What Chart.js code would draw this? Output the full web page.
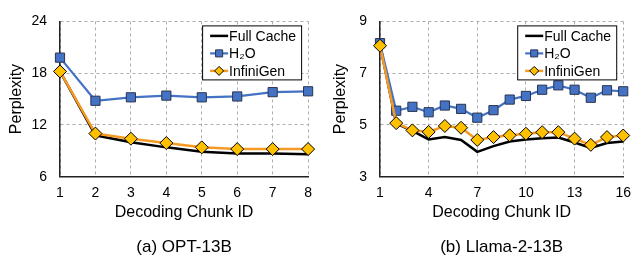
<!DOCTYPE html>
<html>
<head>
<meta charset="utf-8">
<script src="https://cdn.jsdelivr.net/npm/chart.js@4.4.1/dist/chart.umd.min.js"></script>
<style>
    html, body { margin: 0; padding: 0; background: #fff; }
    #wrap { position: relative; width: 639px; height: 259px; }
    canvas { position: absolute; top: 0; }
</style>
</head>
<body>
<div id="wrap">
    <canvas id="optChart" width="320" height="259" style="left:0"></canvas>
    <canvas id="llamaChart" width="319" height="259" style="left:320px"></canvas>
</div>
<script>
const seriesNames = ['Full Cache', 'H₂O', 'InfiniGen'];

// (a) OPT-13B
const optChunks = [1, 2, 3, 4, 5, 6, 7, 8];
const optFullCache = [18.2, 10.8, 10.0, 9.4, 8.9, 8.7, 8.7, 8.6];
const optH2O = [19.8, 14.8, 15.2, 15.4, 15.2, 15.3, 15.8, 15.9];
const optInfiniGen = [18.2, 11.0, 10.4, 9.9, 9.4, 9.2, 9.2, 9.2];
const optXTicks = [1, 2, 3, 4, 5, 6, 7, 8];
const optYTicks = [6, 12, 18, 24];

// (b) Llama-2-13B
const llamaChunks = [1, 2, 3, 4, 5, 6, 7, 8, 9, 10, 11, 12, 13, 14, 15, 16];
const llamaFullCache = [8.1, 5.05, 4.77, 4.44, 4.53, 4.42, 3.96, 4.18, 4.36, 4.44, 4.49, 4.51, 4.32, 4.11, 4.30, 4.36];
const llamaH2O = [8.16, 5.55, 5.70, 5.49, 5.75, 5.62, 5.28, 5.57, 5.98, 6.12, 6.36, 6.53, 6.36, 6.05, 6.34, 6.30];
const llamaInfiniGen = [8.06, 5.07, 4.79, 4.73, 4.96, 4.89, 4.42, 4.53, 4.60, 4.66, 4.72, 4.72, 4.47, 4.23, 4.53, 4.59];
const llamaXTicks = [1, 4, 7, 10, 13, 16];
const llamaYTicks = [3, 5, 7, 9];

const FONT = '"Liberation Sans", Arial, sans-serif';
const BLUE = '#4472C4';
const ORANGE = '#F59A23';
const GOLD = '#FFC000';
const GRID = '#ADADAD';

Chart.defaults.font.family = FONT;
Chart.defaults.color = '#000';

function toPoints(xs, ys) {
    return xs.map((x, i) => ({ x: x, y: ys[i] }));
}

function markerPath(ctx, style, cx, cy, r) {
    ctx.beginPath();
    if (style === 'rect') {
        const s = r * Math.SQRT1_2;
        ctx.rect(cx - s, cy - s, 2 * s, 2 * s);
    } else {
        ctx.moveTo(cx - r, cy);
        ctx.lineTo(cx, cy - r);
        ctx.lineTo(cx + r, cy);
        ctx.lineTo(cx, cy + r);
        ctx.closePath();
    }
}

// legend in a framed box inside the plot, top right
const boxLegend = {
    id: 'boxLegend',
    afterDatasetsDraw(chart) {
        const { ctx, chartArea } = chart;
        const w = 99, h = 54;
        const x = chartArea.right - 7 - w;
        const y = chartArea.top + 4;
        ctx.save();
        ctx.fillStyle = '#fff';
        ctx.fillRect(x, y, w, h);
        ctx.strokeStyle = '#000';
        ctx.lineWidth = 1;
        ctx.strokeRect(x + 0.5, y + 0.5, w, h);
        chart.data.datasets.forEach((ds, i) => {
            const cy = y + 10.5 + i * 17.5;
            ctx.strokeStyle = ds.borderColor;
            ctx.lineWidth = ds.borderWidth;
            ctx.beginPath();
            ctx.moveTo(x + 8, cy);
            ctx.lineTo(x + 26, cy);
            ctx.stroke();
            if (ds.pointRadius > 0) {
                ctx.fillStyle = ds.pointBackgroundColor;
                ctx.strokeStyle = ds.pointBorderColor;
                ctx.lineWidth = 1;
                markerPath(ctx, ds.pointStyle, x + 17, cy, ds.pointStyle === 'rect' ? 5 : 4.5);
                ctx.fill();
                ctx.stroke();
            }
            ctx.fillStyle = '#000';
            ctx.font = '14px ' + FONT;
            ctx.textBaseline = 'middle';
            ctx.fillText(ds.label, x + 27, cy + 1);
        });
        ctx.restore();
    }
};

function makeChart(id, chunks, full, h2o, infini, xTicks, yTicks, caption, rightPad, yTitlePad) {
    return new Chart(document.getElementById(id), {
        type: 'line',
        data: {
            datasets: [{
                label: seriesNames[0],
                data: toPoints(chunks, full),
                borderColor: '#000',
                borderWidth: 2.5,
                pointRadius: 0,
                order: 2,
                clip: false
            }, {
                label: seriesNames[1],
                data: toPoints(chunks, h2o),
                borderColor: BLUE,
                borderWidth: 2.2,
                pointStyle: 'rect',
                pointRadius: 6.5,
                pointBackgroundColor: BLUE,
                pointBorderColor: '#2a3550',
                pointBorderWidth: 1,
                order: 1,
                clip: false
            }, {
                label: seriesNames[2],
                data: toPoints(chunks, infini),
                borderColor: ORANGE,
                borderWidth: 2.5,
                pointStyle: 'rectRot',
                pointRadius: 6.5,
                pointBackgroundColor: GOLD,
                pointBorderColor: '#000',
                pointBorderWidth: 1,
                order: 0,
                clip: false
            }]
        },
        options: {
            responsive: false,
            animation: false,
            layout: { padding: { top: 10, right: rightPad, left: 0, bottom: 0 } },
            scales: {
                x: {
                    type: 'linear',
                    min: xTicks[0],
                    max: xTicks[xTicks.length - 1],
                    afterBuildTicks: s => { s.ticks = xTicks.map(v => ({ value: v })); },
                    afterFit: s => { s.height = 60.9; },
                    ticks: { font: { size: 14 }, color: '#000', padding: 8, maxRotation: 0, autoSkip: false },
                    grid: { color: GRID, lineWidth: 1, drawTicks: false },
                    border: { color: '#222', width: 1.5, dash: [3, 3] },
                    title: {
                        display: true,
                        text: 'Decoding Chunk ID',
                        font: { size: 16 },
                        color: '#000',
                        padding: { top: 0, bottom: 15.3 }
                    }
                },
                y: {
                    min: yTicks[0],
                    max: yTicks[yTicks.length - 1],
                    afterBuildTicks: s => { s.ticks = yTicks.map(v => ({ value: v })); },
                    afterFit: s => { s.width = 60; },
                    ticks: { font: { size: 14 }, color: '#000', padding: 13 },
                    grid: { color: GRID, lineWidth: 1, drawTicks: false },
                    border: { color: '#222', width: 1.5, dash: [3, 3] },
                    title: {
                        display: true,
                        text: 'Perplexity',
                        font: { size: 16 },
                        color: '#000',
                        padding: { top: yTitlePad, bottom: 0 }
                    }
                }
            },
            plugins: {
                legend: { display: false },
                tooltip: { enabled: false },
                title: {
                    display: true,
                    text: caption,
                    position: 'bottom',
                    fullSize: false,
                    font: { size: 17, weight: 'normal' },
                    color: '#000',
                    padding: { top: 0, bottom: 1 }
                }
            }
        },
        plugins: [boxLegend]
    });
}

makeChart('optChart', optChunks, optFullCache, optH2O, optInfiniGen, optXTicks, optYTicks, '(a) OPT-13B', 10, 6.9);
makeChart('llamaChart', llamaChunks, llamaFullCache, llamaH2O, llamaInfiniGen, llamaXTicks, llamaYTicks, '(b) Llama-2-13B', 9, 11.1);
</script>
</body>
</html>
